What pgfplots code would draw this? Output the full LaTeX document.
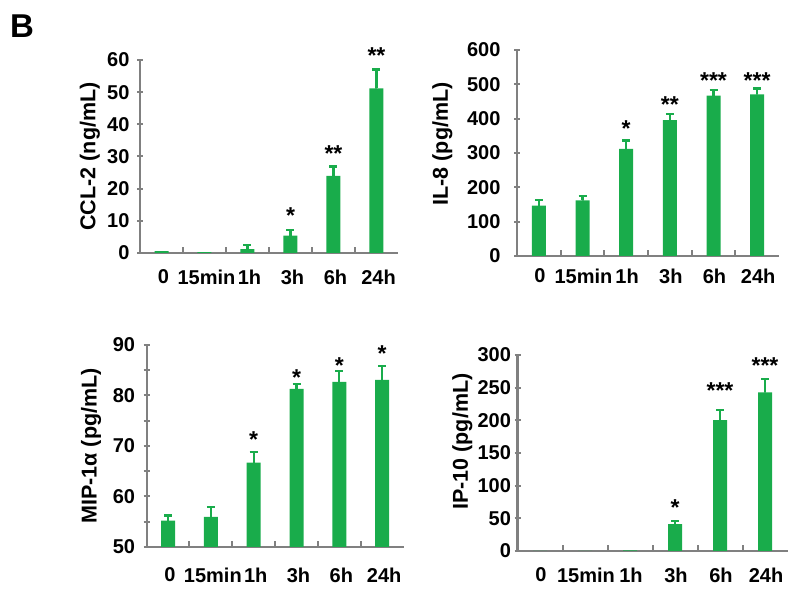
\documentclass[border=0pt]{standalone}
\usepackage{fontspec}
\setmainfont{Liberation Sans}
\usepackage{pgfplots}
\pgfplotsset{compat=1.18}
\definecolor{bargreen}{RGB}{25,172,75}
\definecolor{axgray}{RGB}{128,128,128}
\newcommand{\tfont}{\bfseries\fontsize{20}{21}\selectfont}
\newcommand{\lfont}{\bfseries\fontsize{21.5}{22}\selectfont}
\newcommand{\sfont}{\bfseries\fontsize{23}{24}\selectfont}
\pgfplotsset{
 panel/.style={
  scale only axis, ybar, bar width=14pt, bar shift=0pt,
  xmin=-0.5, xmax=5.5, enlargelimits=false,
  axis x line*=bottom, axis y line*=left,
  axis line style={axgray, line width=2.2pt},
  every tick/.style={axgray, line width=2pt},
  tick align=inside, major tick length=6pt, minor tick length=6pt,
  ytick style={xshift=-3pt},
  xtick={0.5,1.5,2.5,3.5,4.5}, xticklabels={},
  extra x ticks={0,1,2,3,4,5},
  extra x tick labels={0,15min,1h,3h,6h,24h},
  extra x tick style={major tick length=0pt, tick style={draw=none}},
  tick label style={font=\tfont},
  /pgf/number format/assume math mode=true,
  ylabel style={font=\lfont, anchor=center},
  clip mode=individual,
 },
 bars/.style={fill=bargreen, draw=none},
 errs/.style={draw=bargreen, fill=none, line width=2pt, bar width=0pt,
   error bars/.cd, y dir=plus, y explicit, error mark=-,
   error bar style={draw=bargreen, line width=2.2pt},
   error mark options={rotate=90, draw=bargreen, line width=2.4pt, mark size=4pt}},
}
\begin{document}
\begin{tikzpicture}
\useasboundingbox (0,0) rectangle (788pt,596pt);
\node[anchor=north west, inner sep=0pt, font=\bfseries\fontsize{33}{33}\selectfont] at (10pt,581pt) {B};

% Panel 1: CCL-2
\begin{axis}[panel, at={(140pt,343pt)}, anchor=south west, width=258pt, height=193pt,
  ymin=0, ymax=60, ytick={0,10,...,60}, ylabel={CCL-2 (ng/mL)},
  ylabel style={at={(axis description cs:-0.194,0.5)}},
  xticklabel style={yshift=-13pt, xshift=2pt}, yticklabel style={xshift=-7pt}]
\addplot[bars] coordinates {(0,0.6) (1,0.3) (2,1.2) (3,5.4) (4,24) (5,51.2)};
\addplot[errs] coordinates {(2,1.2) +- (0,1.3) (3,5.4) +- (0,1.8) (4,24) +- (0,2.9) (5,51.2) +- (0,5.9)};
\node[font=\sfont, yshift=-4pt] at (axis cs:3,12.8) {*};
\node[font=\sfont, yshift=-4pt] at (axis cs:4,32.0) {**};
\node[font=\sfont, yshift=-4pt] at (axis cs:5,62.6) {**};
\end{axis}

% Panel 2: IL-8
\begin{axis}[panel, at={(517pt,340pt)}, anchor=south west, width=262pt, height=206pt,
  ymin=0, ymax=600, ytick={0,100,...,600}, ylabel={IL-8 (pg/mL)},
  ylabel style={at={(axis description cs:-0.285,0.544)}},
  xticklabel style={yshift=-9pt, xshift=1pt}, yticklabel style={xshift=-13pt}]
\addplot[bars] coordinates {(0,146.6) (1,162) (2,312) (3,396) (4,467) (5,471)};
\addplot[errs] coordinates {(0,146.6) +- (0,16.4) (1,162) +- (0,13) (2,312) +- (0,24) (3,396) +- (0,18) (4,467) +- (0,16) (5,471) +- (0,17)};
\node[font=\sfont, yshift=-4pt] at (axis cs:2,381.6) {*};
\node[font=\sfont, yshift=-4pt] at (axis cs:3,454) {**};
\node[font=\sfont, yshift=-4pt] at (axis cs:4,524) {***};
\node[font=\sfont, yshift=-4pt] at (axis cs:5,524) {***};
\end{axis}

% Panel 3: MIP-1alpha
\begin{axis}[panel, at={(146.6pt,49pt)}, anchor=south west, width=257pt, height=202pt,
  ymin=50, ymax=90, ytick={50,60,...,90}, minor ytick={55,65,75,85}, ylabel={MIP-1α (pg/mL)},
  ylabel style={at={(axis description cs:-0.216,0.5)}},
  xticklabel style={yshift=-17pt, xshift=2pt}, yticklabel style={xshift=-8pt}]
\addplot[bars] coordinates {(0,55.2) (1,55.95) (2,66.7) (3,81.3) (4,82.7) (5,83.1)};
\addplot[errs] coordinates {(0,55.2) +- (0,1.0) (1,55.95) +- (0,1.95) (2,66.7) +- (0,2.1) (3,81.3) +- (0,1.0) (4,82.7) +- (0,2.2) (5,83.1) +- (0,2.7)};
\node[font=\sfont, yshift=-4pt] at (axis cs:2,72.0) {*};
\node[font=\sfont, yshift=-4pt] at (axis cs:3,84.4) {*};
\node[font=\sfont, yshift=-4pt] at (axis cs:4,86.7) {*};
\node[font=\sfont, yshift=-4pt] at (axis cs:5,89.1) {*};
\end{axis}

% Panel 4: IP-10
\begin{axis}[panel, at={(517.5pt,45pt)}, anchor=south west, width=270pt, height=196pt,
  ymin=0, ymax=300, ytick={0,50,...,300}, ylabel={IP-10 (pg/mL)},
  ylabel style={at={(axis description cs:-0.204,0.558)}},
  xticklabel style={yshift=-13pt, xshift=1pt}, yticklabel style={xshift=-3pt}]
\addplot[bars] coordinates {(0,0) (1,0) (2,1) (3,41) (4,200.4) (5,242.8)};
\addplot[errs] coordinates {(3,41) +- (0,5) (4,200.4) +- (0,15.3) (5,242.8) +- (0,20)};
\node[font=\sfont, yshift=-4pt] at (axis cs:3,73) {*};
\node[font=\sfont, yshift=-4pt] at (axis cs:4,251.5) {***};
\node[font=\sfont, yshift=-4pt] at (axis cs:5,289.8) {***};
\end{axis}
\end{tikzpicture}
\end{document}
